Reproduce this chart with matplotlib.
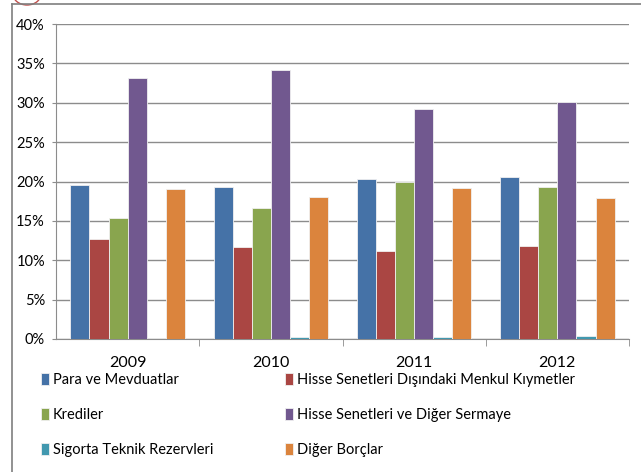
import numpy as np
import matplotlib.pyplot as plt
from matplotlib.lines import Line2D
from matplotlib.patches import Ellipse

plt.rcParams['font.family'] = ['Lato', 'DejaVu Sans']

years = ['2009', '2010', '2011', '2012']
series_names = ['Para ve Mevduatlar',
                'Hisse Senetleri Dışındaki Menkul Kıymetler',
                'Krediler',
                'Hisse Senetleri ve Diğer Sermaye',
                'Sigorta Teknik Rezervleri',
                'Diğer Borçlar']
para = [19.6, 19.3, 20.3, 20.6]
hisse_disi = [12.7, 11.7, 11.2, 11.8]
krediler = [15.4, 16.6, 20.0, 19.3]
hisse = [33.2, 34.2, 29.2, 30.1]
sigorta = [0.0, 0.25, 0.25, 0.38]
diger = [19.0, 18.0, 19.2, 17.9]
colors = ['#4572A7', '#AA4643', '#89A54E', '#71588F', '#4198AF', '#DB843D']

data = [para, hisse_disi, krediler, hisse, sigorta, diger]

fig = plt.figure(figsize=(6.41, 4.72), dpi=100)
ax = fig.add_axes([56/641, 1 - 339/472, (629 - 56)/641, (339 - 24)/472])

x = np.arange(len(years))
w = 0.8 / 6
bars = []
for i, vals in enumerate(data):
    b = ax.bar(x - 0.4 + w * (i + 0.5), vals, w, color=colors[i],
               edgecolor='#f0f0f0', linewidth=0.6, label=series_names[i], zorder=3)
    bars.append(b)

ax.set_ylim(0, 40)
ax.set_xlim(-0.5, 3.5)
ax.set_yticks(range(0, 41, 5))
ax.set_yticklabels([f'{v}%' for v in range(0, 41, 5)], fontsize=10.5)
ax.yaxis.grid(True, color='#8c8c8c', linewidth=1.0, zorder=0)
ax.set_xticks(x)
ax.set_xticklabels(years, fontsize=11.5)
ax.set_xticks([0.5, 1.5, 2.5, 3.5], minor=True)
ax.tick_params(axis='x', which='major', length=0, pad=12)
ax.tick_params(axis='x', which='minor', length=5, color='#8c8c8c')
ax.tick_params(axis='y', length=3, color='#8c8c8c', pad=5)
for s in ['top', 'right']:
    ax.spines[s].set_visible(False)
ax.spines['left'].set_color('#8c8c8c')
ax.spines['bottom'].set_color('#8c8c8c')

# legend: two columns placed separately
leg_kw = dict(loc='upper left', frameon=False, fontsize=10.5, handlelength=0.55,
              handleheight=0.85, handletextpad=0.25, labelspacing=1.45, borderpad=0,
              borderaxespad=0)
fig.legend([bars[i] for i in [0, 2, 4]], [series_names[i] for i in [0, 2, 4]],
           bbox_to_anchor=(41/641, 1 - 373/472), **leg_kw)
fig.legend([bars[i] for i in [1, 3, 5]], [series_names[i] for i in [1, 3, 5]],
           bbox_to_anchor=(285/641, 1 - 373/472), **leg_kw)

# chart frame
fig.add_artist(Line2D([11.5/641, 11.5/641], [0, 1 - 3.5/472], color='#7f7f7f', linewidth=1.2))
fig.add_artist(Line2D([11.5/641, 1], [1 - 3.5/472, 1 - 3.5/472], color='#7f7f7f', linewidth=1.2))
fig.add_artist(Ellipse((27/641, 1 + 6/472), 28/641, 22/472, fill=False,
                       edgecolor='#c0504d', linewidth=1.0))

plt.savefig('out.png', dpi=100)
